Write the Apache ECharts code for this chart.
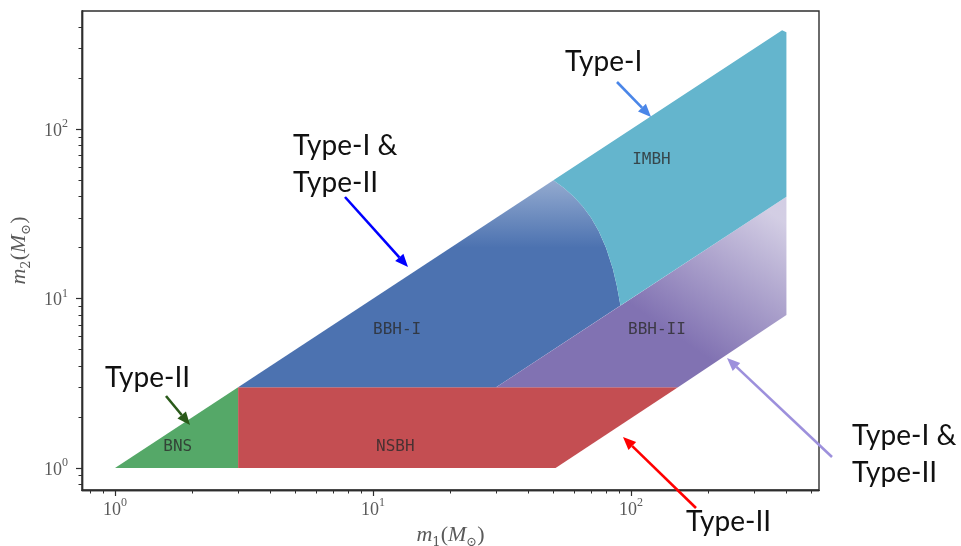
<!DOCTYPE html>
<html>
<head>
<meta charset="utf-8">
<script src="https://cdn.jsdelivr.net/npm/echarts@6/dist/echarts.min.js"></script>
<style>html,body{margin:0;padding:0;background:#fff}#c{width:961px;height:546px}</style>
</head>
<body>
<div id="c"></div>
<script>
// ---- data (m1, m2 in solar masses) ----
const xMajorTicks = [1, 10, 100];
const xMinorTicks = [0.8, 0.9, 2, 3, 4, 5, 6, 7, 8, 9, 20, 30, 40, 50, 60, 70, 80, 90, 200, 300, 400, 500];
const yMajorTicks = [1, 10, 100];
const yMinorTicks = [0.8, 0.9, 2, 3, 4, 5, 6, 7, 8, 9, 20, 30, 40, 50, 60, 70, 80, 90, 200, 300, 400];

const bnsRegion  = [[1, 1], [3, 1], [3, 3]];
const nsbhRegion = [[3, 1], [51, 1], [152, 3], [3, 3]];
const bbh1Region = [[3, 3], [30, 3], [91, 9.1], [88, 12], [85, 15], [80, 20], [75, 25], [70, 30], [65, 35], [60, 40], [55, 45], [50, 50]];
const bbh2Region = [[30, 3], [152, 3], [400, 8], [400, 40]];
const imbhRegion = [[50, 50], [55, 45], [60, 40], [65, 35], [70, 30], [75, 25], [80, 20], [85, 15], [88, 12], [91, 9.1], [400, 40], [400, 375], [385, 385]];

const regionNames = ['BNS', 'NSBH', 'BBH-I', 'BBH-II', 'IMBH'];
const regionLabelPos = [[1.75, 1.33], [12.2, 1.33], [12.4, 6.5], [126, 6.5], [120, 66]];

const xMin = 0.745, xMax = 535, yMin = 0.741, yMax = 500;

// ---- styles ----
const SPINE = '#2e2e2e';
const TICKLBL = '#5a5a5a';
// fill styles: solid colour, or a fade (sparse scatter) between two anchor points
const fills = {
  bns:  { color: '#55a868' },
  nsbh: { color: '#c44e52' },
  bbh1: { color: '#4c72b0', fadeFrom: [30, 20], fadeTo: [30, 50], fadeColor: 'rgba(76,114,176,0.6)' },
  bbh2: { color: '#8172b2', fadeFrom: [150, 6], fadeTo: [330, 34], fadeColor: 'rgba(129,114,178,0.35)' },
  imbh: { color: '#64b5cd' }
};

function polySeries(pts, f, z) {
  return {
    type: 'custom', coordinateSystem: 'cartesian2d', silent: true, z: z,
    data: [pts[0]],
    renderItem: function (params, api) {
      let fill = f.color;
      if (f.fadeFrom) {
        const a = api.coord(f.fadeFrom), b = api.coord(f.fadeTo);
        fill = new echarts.graphic.LinearGradient(a[0], a[1], b[0], b[1],
          [{ offset: 0, color: f.color }, { offset: 1, color: f.fadeColor }], true);
      }
      return { type: 'polygon', shape: { points: pts.map(p => api.coord(p)) }, style: { fill: fill } };
    }
  };
}

const logFmt = v => '{b|10}{s|' + Math.round(Math.log10(v)) + '}';
const labelRich = {
  b: { fontFamily: 'Liberation Serif', fontSize: 18, color: TICKLBL, lineHeight: 22, verticalAlign: 'bottom' },
  s: { fontFamily: 'Liberation Serif', fontSize: 12, color: TICKLBL, verticalAlign: 'top', lineHeight: 22 }
};
const nameRich = {
  i: { fontFamily: 'Liberation Serif', fontStyle: 'italic', fontSize: 22, color: TICKLBL, lineHeight: 28 },
  n: { fontFamily: 'Liberation Serif', fontSize: 22, color: TICKLBL, lineHeight: 28 },
  sub: { fontFamily: 'DejaVu Serif', fontSize: 13, color: TICKLBL, verticalAlign: 'bottom', lineHeight: 26 }
};

function axisBase(extra) {
  return Object.assign({
    type: 'log', logBase: 10, splitLine: { show: false },
    axisLine: { show: true, onZero: false, lineStyle: { color: SPINE, width: 1.4 } }
  }, extra);
}

const grid = { left: 82, top: 11, width: 737, height: 479, show: true, borderColor: SPINE, borderWidth: 1.4,
  backgroundColor: 'transparent', containLabel: false, outerBoundsMode: 'none' };

const xAxes = [
  axisBase({
    min: xMin, max: xMax, position: 'bottom',
    name: '{i|m}{sub|1}{n|(}{i|M}{sub|⊙}{n|)}', nameLocation: 'middle', nameGap: 28,
    nameTextStyle: { rich: nameRich },
    axisTick: { show: true, length: 6, customValues: xMajorTicks, lineStyle: { color: SPINE, width: 1.2 } },
    axisLabel: { show: true, customValues: xMajorTicks, margin: 7, formatter: logFmt, rich: labelRich }
  }),
  axisBase({
    min: xMin, max: xMax, position: 'bottom',
    axisTick: { show: true, length: 3.5, customValues: xMinorTicks, lineStyle: { color: SPINE, width: 1 } },
    axisLabel: { show: false }
  })
];
const yAxes = [
  axisBase({
    min: yMin, max: yMax, position: 'left',
    name: '{i|m}{sub|2}{n|(}{i|M}{sub|⊙}{n|)}', nameLocation: 'middle', nameGap: 45, nameRotate: 90,
    nameTextStyle: { rich: nameRich },
    axisTick: { show: true, length: 6, customValues: yMajorTicks, lineStyle: { color: SPINE, width: 1.2 } },
    axisLabel: { show: true, customValues: yMajorTicks, margin: 14, formatter: logFmt, rich: labelRich }
  }),
  axisBase({
    min: yMin, max: yMax, position: 'left',
    axisTick: { show: true, length: 3.5, customValues: yMinorTicks, lineStyle: { color: SPINE, width: 1 } },
    axisLabel: { show: false }
  })
];

// ---- annotations (pixel layout) ----
const annotations = [
  { text: 'Type-I', x: 565, y: 62, color: '#4a86e8', arrow: [617, 82, 651, 117] },
  { text: 'Type-I &\nType-II', x: 293, y: 164, color: '#0000ff', arrow: [345, 197, 408, 267] },
  { text: 'Type-II', x: 105, y: 378, color: '#2a5a1a', arrow: [166, 396, 190, 425] },
  { text: 'Type-II', x: 686, y: 522, color: '#ff0000', arrow: [696, 508, 623, 437] },
  { text: 'Type-I &\nType-II', x: 852, y: 454, color: '#9d90dc', arrow: [832, 457, 727, 358] }
];
const graphics = [];
annotations.forEach(a => {
  const [x1, y1, x2, y2] = a.arrow;
  const ang = Math.atan2(y2 - y1, x2 - x1);
  const L = 13, W = 5.5;
  const bx = x2 - L * Math.cos(ang), by = y2 - L * Math.sin(ang);
  graphics.push({ type: 'line', silent: true, z: 50, shape: { x1: x1, y1: y1, x2: bx, y2: by }, style: { stroke: a.color, lineWidth: 2.6 } });
  graphics.push({ type: 'polygon', silent: true, z: 50, shape: { points: [[x2, y2], [bx - W * Math.sin(ang), by + W * Math.cos(ang)], [bx + W * Math.sin(ang), by - W * Math.cos(ang)]] }, style: { fill: a.color } });
  graphics.push({ type: 'text', silent: true, z: 50, x: a.x, y: a.y, style: { text: a.text, fill: '#111', font: '28px Lato', textAlign: 'left', textVerticalAlign: 'middle', lineHeight: 37 } });
});

const labelData = regionNames.map((n, i) => ({ name: n, value: regionLabelPos[i] }));

const chart = echarts.init(document.getElementById('c'), null, { renderer: 'canvas' });
chart.setOption({
  animation: false,
  backgroundColor: '#fff',
  grid: grid,
  xAxis: xAxes,
  yAxis: yAxes,
  series: [
    polySeries(bnsRegion, fills.bns, 2),
    polySeries(nsbhRegion, fills.nsbh, 2),
    polySeries(bbh1Region, fills.bbh1, 2),
    polySeries(bbh2Region, fills.bbh2, 2),
    polySeries(imbhRegion, fills.imbh, 2),
    {
      type: 'scatter', data: labelData, symbolSize: 0, silent: true, z: 10,
      label: { show: true, position: 'inside', formatter: '{b}', fontFamily: 'DejaVu Sans Mono', fontSize: 16, color: '#2b2b2b' }
    }
  ],
  graphic: graphics
});
</script>
</body>
</html>
